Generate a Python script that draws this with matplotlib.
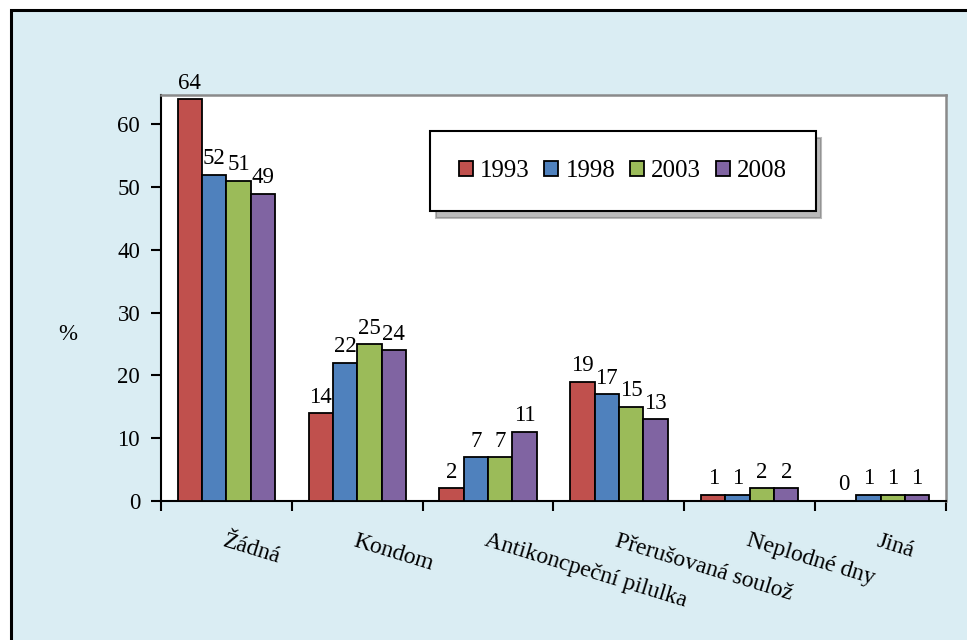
import numpy as np
import matplotlib.pyplot as plt
from matplotlib.patches import Rectangle

# data
categories = ['Žádná', 'Kondom', 'Antikoncpeční pilulka', 'Přerušovaná soulož',
              'Neplodné dny', 'Jiná']
years = ['1993', '1998', '2003', '2008']
v1993 = [64, 14, 2, 19, 1, 0]
v1998 = [52, 22, 7, 17, 1, 1]
v2003 = [51, 25, 7, 15, 2, 1]
v2008 = [49, 24, 11, 13, 2, 1]
series = [v1993, v1998, v2003, v2008]
colors = ['#C0504D', '#4F81BD', '#9BBB59', '#8064A2']

plt.rcParams['font.family'] = ['Liberation Serif', 'DejaVu Serif']
FS = 16.5
BG = '#DAEDF3'

fig = plt.figure(figsize=(9.67, 6.4), dpi=100, facecolor='white')

# outer light-blue frame (runs off the right and bottom edges)
top = 1 - 10 / 640
frame = Rectangle((11 / 967, -0.2), 1.2, top + 0.2, transform=fig.transFigure,
                  facecolor=BG, edgecolor='black', linewidth=2.2, zorder=-5)
fig.patches.append(frame)

ax = fig.add_axes([161 / 967, 1 - 501 / 640, 785 / 967, 406 / 640])
ax.set_facecolor('white')

x = np.arange(len(categories))
w = 0.186
for i, (vals, c, yr) in enumerate(zip(series, colors, years)):
    pos = x + (i - 1.5) * w
    bars = ax.bar(pos, vals, width=w, color=c, edgecolor='black', linewidth=1.3,
                  label=yr, zorder=3)
    for xp, v in zip(pos, vals):
        ax.annotate(str(v), (xp, v), xytext=(0, 4), textcoords='offset points',
                    ha='center', va='bottom', fontsize=FS)

ax.set_xlim(-0.5, 5.5)
ax.set_ylim(0, 64.7)
ax.set_yticks(range(0, 61, 10))
ax.set_xticks(np.arange(-0.5, 6, 1))
ax.set_xticklabels([])
ax.tick_params(axis='y', direction='out', length=7, width=1.5, labelsize=FS, pad=8)
ax.tick_params(axis='x', direction='out', length=7, width=1.5)

for s in ['left', 'bottom']:
    ax.spines[s].set_color('black')
    ax.spines[s].set_linewidth(1.5)
for s in ['top', 'right']:
    ax.spines[s].set_color('#8A8A8A')
    ax.spines[s].set_linewidth(1.8)

# rotated category labels
for xi, name in zip(x, categories):
    ax.text(xi, -0.072, name, transform=ax.get_xaxis_transform(), rotation=-17,
            rotation_mode='anchor', ha='left', va='top', fontsize=17)

fig.text(68 / 967, 1 - 335 / 640, '%', ha='center', va='center', fontsize=FS)

leg = ax.legend(loc='center', bbox_to_anchor=(0.327, 0.712, 0.523, 0.202),
                mode='expand', ncol=4, fontsize=18, frameon=True, fancybox=False,
                edgecolor='black', framealpha=1, borderpad=1.15,
                handlelength=0.55, handleheight=0.55, handletextpad=0.3,
                columnspacing=1.5,
                shadow={'ox': 4, 'oy': -5, 'color': '0.4', 'alpha': 0.45})
leg.get_frame().set_linewidth(1.5)
leg.set_zorder(5)

plt.savefig('out.png', dpi=100, facecolor=fig.get_facecolor())
